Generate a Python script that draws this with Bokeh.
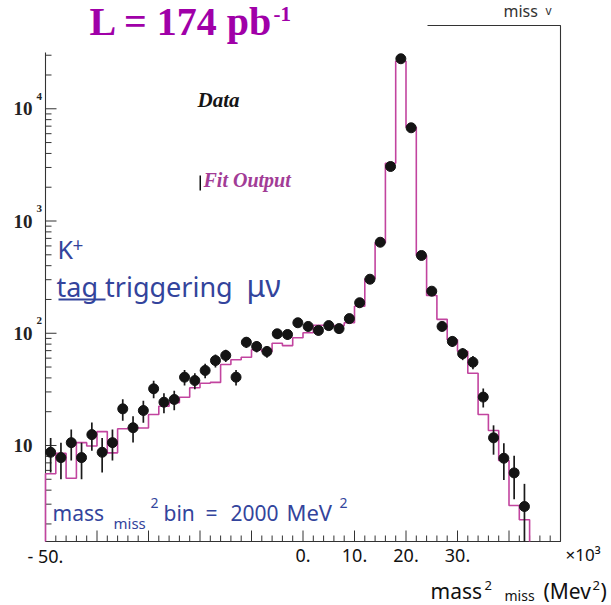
import math

from bokeh.plotting import figure
from bokeh.models import Range1d, Label, BoxAnnotation, ColumnDataSource
from bokeh.embed import file_html
from bokeh.resources import INLINE

# Missing-mass-squared bins, in units of 10^3 MeV^2 (bin width 2000 MeV^2)
bin_centers = [-49, -47, -45, -43, -41, -39, -37, -35, -33, -31,
               -29, -27, -25, -23, -21, -19, -17, -15, -13, -11,
               -9, -7, -5, -3, -1, 1, 3, 5, 7, 9,
               11, 13, 15, 17, 19, 21, 23, 25, 27, 29,
               31, 33, 35, 37, 39, 41, 43, 45, 47, 49]
bin_width = 2

# Measured events per bin (None = empty bin)
data_counts = [8.7, 7.8, 10.6, 7.8, 12.5, 8.7, 10.6, 21.2, 14.4, 20.5,
               32, 24.3, 25.7, 40.6, 37.9, 46.6, 57.1, 63.4, 40.6, 83.2,
               76.2, 68.8, 98.9, 97.5, 124, 115, 106, 117, 110, 135,
               187, 303, 647, 3060, 27900, 6770, 493, 237, 115, 84.6,
               65.7, 55.2, 27, 11.7, 7.7, 5.7, 2.86, None, None, None]

# Fitted spectrum per bin
fit_counts = [5.6, 8.5, 5.1, 10.6, 9.9, 13.3, 8.6, 14.1, 14.4, 14.3,
              18.9, 22.4, 24.0, 26.9, 32.7, 35.9, 36.5, 52.7, 58, 61.2,
              71.3, 69, 81.5, 77.6, 91.3, 101, 118, 118, 117, 124,
              174, 306, 640, 3270, 26500, 6850, 493, 217, 133, 87.5,
              69.2, 44, 18.9, 13.6, 7.35, 2.92, 2.18, None, None, None]

x_tick_values = [-50, -40, -30, -20, -10, 0, 10, 20, 30, 40, 50]
x_tick_labels = ["- 50.", "", "", "", "", "0.", "10.", "20.", "30.", "", ""]
x_minor_step = 2
y_tick_values = [10, 100, 1000, 10000]
y_tick_exponents = ["", "2", "3", "4"]

X_MIN, X_MAX = -50, 50
Y_MIN, Y_MAX = 1.395, 55200

HIST_COLOR = "#C2449F"
BLUE = "#33449C"
PURPLE = "#A000A8"
AXIS_COLOR = "#333333"

# Page geometry (pixels): the histogram box sits inside a full-page frame
W, H = 611, 605
BOX_L, BOX_R, BOX_T, BOX_B = 45, 560, 25, 541
MAJOR_LEN, MINOR_LEN = 11, 6

kx = (BOX_R - BOX_L) / (X_MAX - X_MIN)              # px per x unit
ly0, ly1 = math.log10(Y_MIN), math.log10(Y_MAX)
ky = (BOX_B - BOX_T) / (ly1 - ly0)                   # px per decade

p = figure(width=W, height=H, y_axis_type="log",
           x_range=Range1d(X_MIN - BOX_L / kx, X_MAX + (W - BOX_R) / kx),
           y_range=Range1d(10 ** (ly0 - (H - BOX_B) / ky), 10 ** (ly1 + BOX_T / ky)),
           output_backend="svg", toolbar_location=None,
           x_axis_location=None, y_axis_location=None, min_border=0)
p.background_fill_color = "white"
p.border_fill_color = "white"
p.outline_line_color = None
p.xgrid.visible = False
p.ygrid.visible = False

# Frame of the histogram box
p.line([X_MIN, X_MAX, X_MAX, X_MIN, X_MIN], [Y_MIN, Y_MIN, Y_MAX, Y_MAX, Y_MIN],
       line_color=AXIS_COLOR, line_width=1.1)

# x ticks pointing into the box
x_minor = [t for t in range(X_MIN, X_MAX + 1, x_minor_step) if t not in x_tick_values]
xt = x_tick_values + x_minor
xt_len = [MAJOR_LEN] * len(x_tick_values) + [MINOR_LEN] * len(x_minor)
p.segment(x0=xt, y0=[Y_MIN] * len(xt), x1=xt,
          y1=[Y_MIN * 10 ** (L / ky) for L in xt_len],
          line_color=AXIS_COLOR, line_width=1)

# y ticks (log decades with 2..9 minor ticks)
y_minor = [m * 10 ** k for k in range(0, 5) for m in range(2, 10)
           if Y_MIN <= m * 10 ** k <= Y_MAX]
yt = y_tick_values + y_minor
yt_len = [MAJOR_LEN] * len(y_tick_values) + [MINOR_LEN] * len(y_minor)
p.segment(x0=[X_MIN] * len(yt), y0=yt, x1=[X_MIN + L / kx for L in yt_len], y1=yt,
          line_color=AXIS_COLOR, line_width=1)

# Fit histogram as a step outline
hx, hy = [], []
for c0, cnt in zip(bin_centers, fit_counts):
    if cnt is None:
        continue
    lo, hi = c0 - bin_width / 2, c0 + bin_width / 2
    if not hx:
        hx.append(lo)
        hy.append(Y_MIN)
    hx += [lo, hi]
    hy += [cnt, cnt]
hx.append(hx[-1])
hy.append(Y_MIN)
p.line(hx, hy, line_color=HIST_COLOR, line_width=1.6)

# Data points with Poisson error bars (bars end at the box floor)
px = [x for x, c in zip(bin_centers, data_counts) if c is not None]
pc = [c for c in data_counts if c is not None]
src = ColumnDataSource(dict(
    x=px, y=pc,
    lo=[max(c - math.sqrt(c), Y_MIN) for c in pc],
    hi=[c + math.sqrt(c) for c in pc],
))
p.segment(x0="x", y0="lo", x1="x", y1="hi", source=src,
          line_color="#1a1a1a", line_width=1.7)
p.scatter(x="x", y="y", source=src, size=10, fill_color="#141414",
          line_color="#141414")

BASE_SHIFT = 0.37   # label anchor sits this many ems above the glyph baseline


def place(text, cx, cy, size, color, font="Noto Sans", style="normal",
          align="left", level="annotation", x_data=None):
    """Text whose baseline is at page pixel row cy."""
    kw = dict(x=cx, x_units="screen") if x_data is None else dict(x=x_data, x_units="data")
    p.add_layout(Label(y=H - cy + BASE_SHIFT * size, y_units="screen", text=text,
                       text_font=font, text_font_size=f"{size}px",
                       text_font_style=style, text_color=color,
                       text_baseline="alphabetic", text_align=align,
                       level=level, **kw))


def bar(x0, x1, y0, y1, color, level="annotation"):
    """Filled rectangle in page pixels."""
    p.add_layout(BoxAnnotation(left=x0, right=x1, bottom=H - y1, top=H - y0,
                               left_units="screen", right_units="screen",
                               bottom_units="screen", top_units="screen",
                               fill_color=color, fill_alpha=1.0,
                               line_color=None, level=level))


# x tick labels
for t, s in zip(x_tick_values, x_tick_labels):
    if s:
        place(s, 0, 562, 18, "#111111", align="center", x_data=t)

# y tick labels: "10" with a raised exponent
for v, e in zip(y_tick_values, y_tick_exponents):
    p.add_layout(Label(x=32, x_units="screen", y=v, y_units="data", text="10",
                       text_font="Liberation Serif", text_font_style="bold",
                       text_font_size="19px", text_color="#222222",
                       text_baseline="alphabetic", text_align="right"))
    if e:
        p.add_layout(Label(x=36, x_units="screen", y=v, y_units="data", text=e,
                           y_offset=8.3 + BASE_SHIFT * 11,
                           text_font="Liberation Serif", text_font_style="bold",
                           text_font_size="11px", text_color="#222222",
                           text_baseline="alphabetic", text_align="left"))

# Legend-style captions
place("Data", 197, 107, 21, "#151515", font="Liberation Serif", style="bold italic")
bar(199, 200.5, 175, 190, "#111111")
place("Fit Output", 203, 187, 20, "#A23C96", font="Liberation Serif", style="bold italic")

# Blue annotations
place("K", 57, 258, 25, BLUE)
place("+", 72, 252, 19, BLUE)
place("tag triggering", 56, 296, 27, BLUE)
place("\u03bc\u03bd", 246, 296, 30, BLUE)
bar(58, 105, 298, 300, BLUE)

place("mass", 52, 520, 21, BLUE)
place("miss", 113, 528, 15, BLUE)
place("2", 150, 508, 14, BLUE)
place("bin", 163, 520, 21, BLUE)
place("=", 205, 520, 21, BLUE)
place("2000", 230, 520, 21, BLUE)
place("MeV", 286, 520, 22, BLUE)
place("2", 339, 508, 14, BLUE)

# Axis multiplier and axis title
place("\u00d710\u00b3", 565, 560, 17, "#111111")
place("mass", 430, 598, 21, "#111111")
place("2", 484, 590, 13, "#111111")
place("miss", 504, 600, 14, "#111111")
place("(Mev", 543, 598, 21, "#111111")
place("2", 592, 590, 13, "#111111")
place(")", 600, 598, 21, "#111111")

# Header area above the box
bar(0, 427, 0, 52, "white", level="overlay")
place("L = 174 pb", 89, 36, 40, PURPLE, font="Liberation Serif", style="bold",
      level="overlay")
place("-1", 273, 21, 21, PURPLE, font="Liberation Serif", style="bold",
      level="overlay")
place("miss", 503, 16, 16, "#333333")
place("v", 545, 14, 12, "#333333")

open("out.html", "w").write(file_html(p, INLINE))
